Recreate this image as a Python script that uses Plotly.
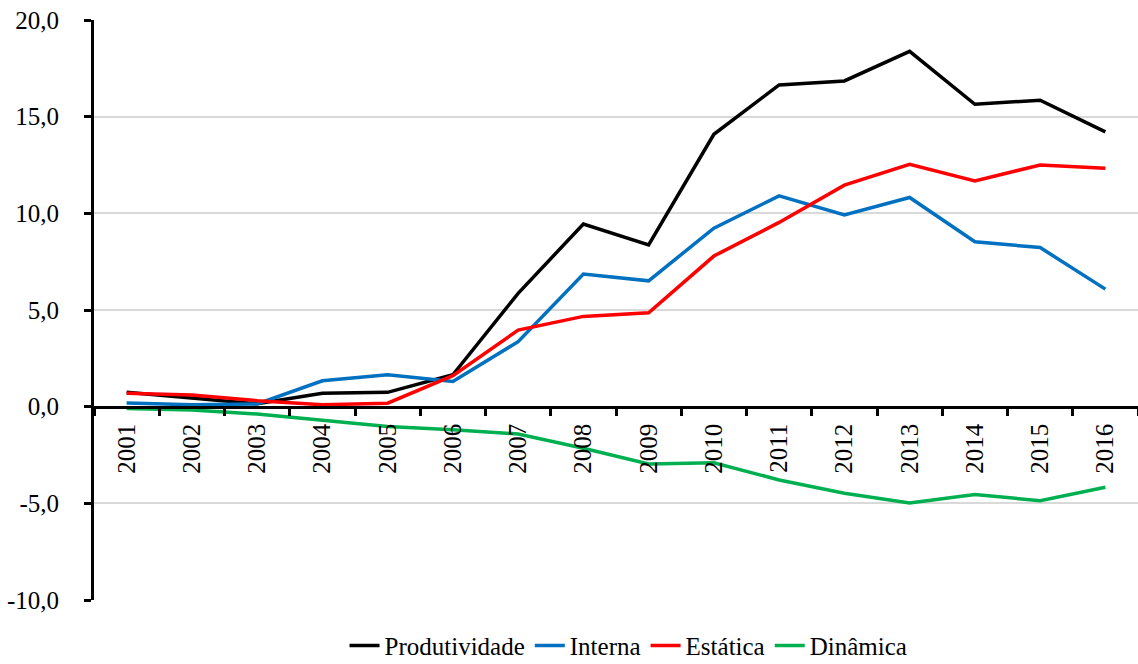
import plotly.graph_objects as go

years = [str(y) for y in range(2001, 2017)]
produtividade = [0.75, 0.45, 0.15, 0.69, 0.74, 1.65, 5.86, 9.45, 8.37, 14.09, 16.64, 16.85, 18.38, 15.64, 15.85, 14.21]
interna = [0.19, 0.10, 0.14, 1.34, 1.65, 1.30, 3.36, 6.86, 6.51, 9.23, 10.90, 9.92, 10.82, 8.53, 8.23, 6.08]
estatica = [0.70, 0.60, 0.31, 0.10, 0.18, 1.60, 3.96, 4.67, 4.86, 7.79, 9.53, 11.46, 12.54, 11.68, 12.50, 12.33]
dinamica = [-0.09, -0.17, -0.38, -0.69, -1.03, -1.20, -1.41, -2.15, -2.96, -2.90, -3.79, -4.48, -4.98, -4.55, -4.86, -4.17]

y_tick_vals = [-10, -5, 0, 5, 10, 15, 20]
y_tick_text = ["-10,0", "-5,0", "0,0", "5,0", "10,0", "15,0", "20,0"]

series = [
    ("Produtividade", produtividade, "#000000"),
    ("Interna", interna, "#0070C0"),
    ("Estática", estatica, "#FF0000"),
    ("Dinâmica", dinamica, "#00B050"),
]

fig = go.Figure()
for name, vals, color in series:
    fig.add_trace(go.Scatter(x=years, y=vals, name=name, mode="lines",
                             line=dict(color=color, width=3.5)))

font_family = "Liberation Serif, Times New Roman, serif"
fig.update_layout(
    width=1138, height=664,
    margin=dict(l=94, r=0, t=20, b=64, autoexpand=False),
    paper_bgcolor="white", plot_bgcolor="white",
    font=dict(family=font_family, size=25, color="black"),
    showlegend=True,
    legend=dict(orientation="h", x=0.512, xanchor="center", y=-0.079, yanchor="middle",
                font=dict(family=font_family, size=25), tracegroupgap=0),
    xaxis=dict(type="category", anchor="free", position=1/3, automargin=False,
               showline=True, linecolor="black", linewidth=3,
               ticks="outside", tickson="boundaries", ticklen=7, tickwidth=3, tickcolor="black",
               tickangle=-90, showgrid=False, zeroline=False, ticklabelstandoff=5,
               tickfont=dict(family=font_family, size=25),
               range=[-0.5, 15.5]),
    yaxis=dict(range=[-10, 20], tickmode="array", tickvals=y_tick_vals, ticktext=y_tick_text,
               automargin=False,
               showline=True, linecolor="black", linewidth=3,
               ticks="outside", ticklen=7, tickwidth=3, tickcolor="black",
               ticklabelstandoff=20,
               tickfont=dict(family=font_family, size=25),
               showgrid=True, gridcolor="#d9d9d9", gridwidth=1.5, zeroline=False),
)

fig.write_html("out.html", config={"displayModeBar": False},
               post_script="document.body.style.margin='0';document.body.style.overflow='hidden';")
